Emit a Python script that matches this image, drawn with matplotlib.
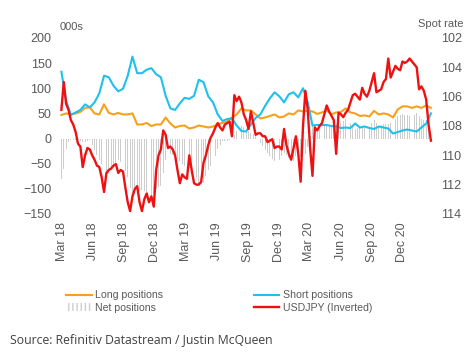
"""
JPY speculative positioning vs USDJPY (inverted) chart.
"""

import matplotlib
matplotlib.use("Agg")
import matplotlib.dates as mdates
import matplotlib.pyplot as plt
import pandas as pd
from matplotlib.lines import Line2D
from matplotlib.patches import Patch

# Weekly dates (CFTC report Tuesdays); long/short read every second week.
weeks = pd.date_range("2018-02-27", periods=157, freq="7D")
fortnights = weeks[::2]

# Long positions, 000s contracts (biweekly)
long_pos = [
    47, 50, 48, 50, 53, 61, 62, 50, 48, 68, 51, 48, 51, 48, 48, 50,
    28, 28, 31, 25, 28, 28, 42, 30, 22, 25, 26, 20, 22, 26, 24, 22,
    24, 28, 31, 34, 42, 48, 60, 56, 56, 48, 40, 42, 45, 48, 42, 44,
    50, 48, 56, 54, 55, 54, 49, 52, 56, 48, 52, 53, 60, 52, 50, 45,
    46, 44, 55, 48, 50, 48, 42, 58, 64, 64, 61, 64, 61, 66, 61,
]

# Short positions, 000s contracts (biweekly)
short_pos = [
    133, 75, 47, 52, 57, 68, 62, 72, 90, 125, 122, 105, 94, 99, 125, 163,
    130, 130, 137, 140, 128, 122, 85, 60, 57, 70, 81, 79, 85, 117, 112, 84,
    72, 48, 35, 39, 40, 26, 15, 14, 28, 41, 48, 65, 80, 92, 84, 72,
    88, 92, 82, 100, 72, 26, 27, 27, 27, 25, 24, 21, 22, 21, 30, 22,
    24, 21, 19, 24, 22, 20, 10, 13, 16, 18, 16, 14, 22, 30, 50,
]

# Net positions, 000s contracts (weekly)
net_pos = [
    -81, -60, -20, -6, -3, -2, -2, -3, -4, -6, -7, -4, -3, -12, -22, -33,
    -42, -50, -57, -65, -71, -63, -57, -50, -43, -47, -51, -64, -77, -98, -113, -108,
    -102, -104, -102, -105, -106, -110, -115, -108, -100, -97, -94, -68, -43, -36, -30, -33,
    -35, -40, -45, -50, -55, -57, -59, -61, -63, -78, -91, -90, -88, -75, -62, -55,
    -48, -34, -20, -12, -4, -5, -5, -2, 2, 8, 15, 20, 25, 23, 20, 16,
    12, 10, 7, -1, -8, -15, -23, -29, -35, -40, -44, -43, -42, -35, -28, -33,
    -38, -41, -44, -35, -26, -36, -46, -30, -17, 5, 28, 25, 22, 24, 25, 27,
    29, 26, 23, 25, 28, 30, 32, 35, 38, 34, 31, 25, 20, 22, 23, 22,
    22, 22, 23, 30, 36, 30, 24, 26, 28, 28, 28, 30, 32, 38, 45, 47,
    48, 47, 46, 45, 45, 47, 50, 44, 39, 37, 36, 24, 11,
]

# USDJPY spot rate (weekly)
usdjpy = [
    106.9, 105.0, 106.5, 106.9, 107.6, 107.9, 108.4, 109.2, 109.4, 110.8, 110.0, 109.5, 109.6, 110.0, 110.3, 110.7,
    110.8, 111.5, 112.5, 111.2, 111.0, 110.9, 110.7, 110.6, 111.2, 111.0, 111.1, 112.2, 113.2, 113.8, 112.8, 112.3,
    112.1, 113.2, 113.8, 113.0, 112.6, 113.2, 112.8, 113.5, 111.0, 110.0, 109.6, 108.3, 108.6, 109.5, 109.4, 109.6,
    110.0, 111.0, 111.9, 111.3, 111.5, 111.6, 110.0, 111.0, 111.9, 112.0, 112.0, 111.8, 110.5, 110.0, 109.3, 108.8,
    108.5, 108.1, 107.8, 108.1, 108.3, 107.9, 107.8, 107.7, 108.7, 105.9, 106.3, 106.0, 106.4, 107.2, 107.6, 108.2,
    107.0, 107.8, 108.6, 108.5, 108.5, 108.7, 108.7, 109.1, 109.0, 108.9, 109.5, 109.4, 109.4, 109.6, 108.2, 109.3,
    109.9, 110.3, 109.5, 108.7, 109.9, 111.8, 108.0, 105.6, 106.9, 109.5, 111.4, 108.1, 108.3, 108.0, 107.8, 107.2,
    106.6, 107.0, 107.3, 107.6, 109.9, 107.1, 107.2, 107.4, 107.1, 106.9, 106.4, 105.9, 105.8, 106.0, 106.2, 105.4,
    105.8, 106.0, 105.6, 105.0, 104.4, 105.7, 105.6, 105.5, 105.0, 104.8, 103.4, 104.7, 104.3, 103.9, 104.1, 104.2,
    103.6, 103.7, 103.6, 103.4, 103.6, 103.8, 104.0, 105.5, 105.3, 105.6, 106.2, 107.9, 109.0,
]

left_ticks = [-150, -100, -50, 0, 50, 100, 150, 200]
right_ticks = [102, 104, 106, 108, 110, 112, 114]
# Quarterly tick dates shown on the x axis
tick_dates = pd.date_range("2018-03-01", "2020-12-01", freq="3MS")

ORANGE = "#f7a11a"
CYAN = "#1fc0ee"
RED = "#ee1111"
GREY = "#cdcdcd"
TEXT = "#595959"

plt.rcParams["font.family"] = ["Liberation Sans", "DejaVu Sans"]

fig = plt.figure(figsize=(4.74, 3.6), dpi=100)
ax = fig.add_axes([57 / 474, 146 / 360, 379 / 474, 176 / 360])

# Net bars behind the position lines
ax.bar(weeks, net_pos, width=2.6, color=GREY, linewidth=0, zorder=1)
ax.plot(fortnights, long_pos, color=ORANGE, linewidth=1.5, zorder=2)
ax.plot(fortnights, short_pos, color=CYAN, linewidth=1.5, zorder=2)

ax.set_ylim(-150, 200)
ax.set_yticks(left_ticks)
ax.set_xlim(pd.Timestamp("2018-02-14"), pd.Timestamp("2021-03-10"))

# Quarterly ticks, labelled like "Mar 18"
ax.set_xticks(tick_dates)
ax.xaxis.set_major_formatter(mdates.DateFormatter("%b %y"))
ax.tick_params(axis="x", rotation=90, length=0, pad=6, labelsize=9, labelcolor=TEXT)
ax.tick_params(axis="y", length=0, pad=4, labelsize=9, labelcolor=TEXT)
for spine in ax.spines.values():
    spine.set_visible(False)

# USDJPY on an inverted right axis
ax2 = ax.twinx()
ax2.plot(weeks, usdjpy, color=RED, linewidth=1.7, zorder=3)
ax2.set_ylim(114, 102)
ax2.set_yticks(right_ticks)
ax2.tick_params(axis="y", length=0, pad=4, labelsize=9, labelcolor=TEXT)
for spine in ax2.spines.values():
    spine.set_visible(False)

fig.text(60 / 474, 1 - 27 / 360, "000s", fontsize=8, color=TEXT, va="center")
fig.text(418 / 474, 1 - 24 / 360, "Spot rate", fontsize=8, color=TEXT, va="center")

handles = [
    Line2D([], [], color=ORANGE, linewidth=1.5),
    Patch(facecolor="white", edgecolor=GREY, hatch="||||", linewidth=0),
    Line2D([], [], color=CYAN, linewidth=1.5),
    Line2D([], [], color=RED, linewidth=1.7),
]
labels = ["Long positions", "Net positions", "Short positions", "USDJPY (Inverted)"]
fig.legend(handles, labels, ncol=2, loc="upper left",
           bbox_to_anchor=(62 / 474, 1 - 286 / 360), frameon=False,
           fontsize=7.6, labelcolor=TEXT, handlelength=2.4, handletextpad=0.35,
           columnspacing=8.6, labelspacing=0.25, borderaxespad=0)

fig.text(10 / 474, 1 - 340 / 360, "Source: Refinitiv Datastream / Justin McQueen",
         fontsize=8.8, color="#404040", family=["Open Sans", "DejaVu Sans"], va="center")

fig.savefig("out.png", dpi=100)
plt.close(fig)
